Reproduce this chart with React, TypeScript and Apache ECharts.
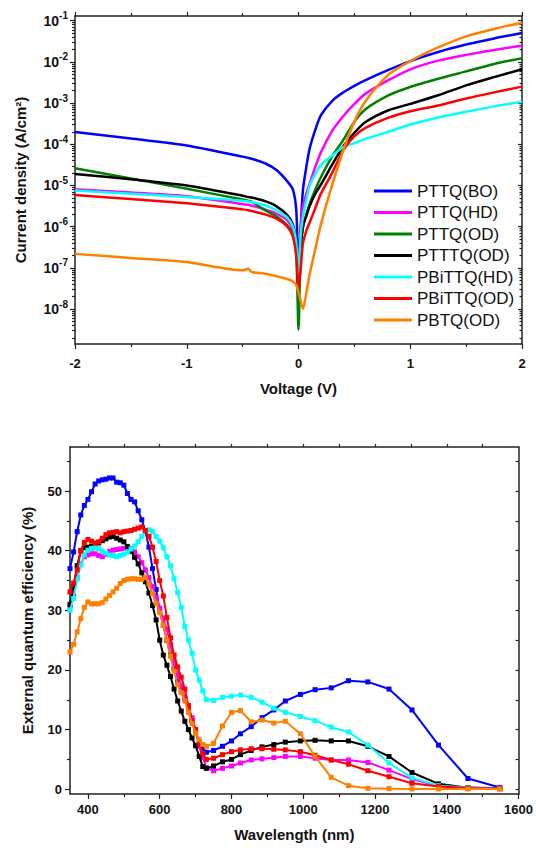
import React, { useEffect, useRef } from "react";
import * as echarts from "echarts";

// ---------- Top panel: J-V curves (values are log10 of current density, A/cm2) ----------
const voltage = [-2, -1.5, -1, -0.5, -0.45, -0.42, -0.3, -0.2, -0.1, -0.05, -0.02, 0, 0.02, 0.04, 0.07, 0.1, 0.15, 0.2, 0.3, 0.4, 0.5, 0.6, 0.8, 1.0, 1.25, 1.5, 1.75, 2.0];

const logJ_PTTQ_BO = [-3.70, -3.86, -4.03, -4.30, -4.33, -4.35, -4.46, -4.62, -4.90, -5.10, -5.6, -7.0, -6.0, -5.1, -4.55, -4.1, -3.65, -3.3, -2.95, -2.74, -2.58, -2.44, -2.2, -1.98, -1.76, -1.58, -1.43, -1.30];
const logJ_PTTQ_HD = [-5.09, -5.17, -5.26, -5.45, -5.47, -5.49, -5.58, -5.68, -5.85, -6.1, -6.6, -7.3, -6.0, -5.5, -5.2, -4.95, -4.55, -4.2, -3.68, -3.32, -3.02, -2.77, -2.45, -2.18, -1.97, -1.83, -1.71, -1.61];
const logJ_PTTQ_OD = [-4.58, -4.83, -5.08, -5.34, -5.37, -5.39, -5.6, -5.75, -5.97, -6.2, -6.7, -8.5, -6.5, -6.0, -5.7, -5.45, -5.1, -4.8, -4.3, -3.9, -3.45, -3.15, -2.82, -2.61, -2.41, -2.23, -2.05, -1.91];
const logJ_PTTTQ_OD = [-4.72, -4.85, -5.0, -5.25, -5.28, -5.29, -5.38, -5.5, -5.72, -5.95, -6.4, -7.4, -6.5, -6.0, -5.74, -5.5, -5.2, -4.98, -4.5, -4.05, -3.72, -3.46, -3.18, -3.02, -2.81, -2.57, -2.37, -2.18];
const logJ_PBiTTQ_HD = [-5.12, -5.2, -5.28, -5.37, -5.39, -5.4, -5.48, -5.6, -5.78, -6.0, -6.4, -7.2, -6.2, -5.75, -5.35, -5.0, -4.72, -4.5, -4.28, -4.07, -3.97, -3.87, -3.7, -3.52, -3.35, -3.21, -3.08, -2.97];
const logJ_PBiTTQ_OD = [-5.23, -5.33, -5.43, -5.58, -5.6, -5.62, -5.7, -5.8, -6.0, -6.25, -6.7, -7.5, -7.0, -6.4, -6.1, -5.9, -5.55, -5.2, -4.7, -4.15, -3.8, -3.6, -3.36, -3.2, -3.06, -2.89, -2.74, -2.6];
const logJ_PBTQ_OD = [-6.66, -6.76, -6.86, -7.06, -7.02, -7.10, -7.14, -7.2, -7.27, -7.33, -7.42, -7.6, -7.8, -8.0, -7.6, -7.15, -6.55, -5.95, -5.0, -4.15, -3.45, -2.95, -2.32, -1.98, -1.65, -1.38, -1.2, -1.05];

// ---------- Bottom panel: EQE spectra ----------
const wavelength = [350, 360, 370, 380, 390, 400, 410, 420, 430, 440, 450, 460, 470, 480, 490, 500, 510, 520, 530, 540, 550, 560, 570, 580, 590, 600, 610, 620, 630, 640, 650, 660, 670, 680, 690, 700, 710, 720, 730,
  750, 775, 800, 825, 855, 885, 918, 950, 992, 1033, 1078, 1126, 1180, 1239, 1303, 1377, 1459, 1548];

const eqe_PTTQ_BO = [37.0, 39.8, 43.2, 46.0, 47.6, 48.6, 49.9, 51.2, 51.7, 51.9, 52.0, 52.2, 52.2, 51.5, 51.4, 51.0, 49.6, 48.6, 48.2, 46.7, 45.2, 43.3, 40.6, 37.0, 33.5, 30.0, 27.5, 25.0, 22.5, 20.2, 18.0, 16.5, 15.2, 14.0, 11.5, 9.5, 7.8, 6.8, 6.2,
  6.5, 7.2, 8.1, 9.3, 10.5, 12.0, 13.3, 14.8, 15.9, 16.7, 17.0, 18.2, 18.0, 16.8, 13.3, 7.4, 1.8, 0.3];
const eqe_PTTQ_HD = [30.5, 32.5, 35.5, 37.8, 39.0, 39.3, 39.5, 39.5, 39.2, 39.0, 39.4, 39.9, 40.1, 40.2, 40.3, 40.4, 40.5, 40.4, 39.8, 39.0, 38.0, 36.8, 35.5, 34.0, 32.2, 30.4, 28.6, 26.8, 24.2, 21.4, 19.3, 17.3, 15.3, 13.7, 12.0, 10.0, 7.2, 5.3, 3.6,
  3.1, 3.5, 3.9, 4.4, 4.9, 5.1, 5.3, 5.5, 5.5, 5.2, 4.9, 4.9, 4.5, 3.2, 1.7, 0.55, 0.27, 0.2];
const eqe_PTTTQ_OD = [31.0, 34.0, 37.5, 40.0, 40.5, 40.6, 40.7, 41.0, 41.3, 41.7, 42.0, 42.3, 42.4, 42.1, 41.8, 41.5, 40.7, 39.9, 38.9, 37.8, 36.3, 34.8, 32.9, 30.8, 28.4, 25.0, 22.5, 20.8, 18.9, 16.8, 14.8, 13.1, 11.4, 10.0, 8.6, 7.3, 5.5, 3.8, 3.5,
  3.9, 4.6, 5.0, 5.8, 6.5, 7.1, 7.5, 7.9, 8.1, 8.2, 8.1, 8.1, 7.2, 5.5, 2.8, 0.9, 0.27, 0.1];
const eqe_PBiTTQ_HD = [30.0, 32.0, 35.3, 37.6, 39.3, 40.1, 40.4, 40.5, 40.3, 39.9, 39.6, 39.3, 39.2, 39.0, 39.2, 39.4, 39.8, 40.3, 40.8, 41.5, 42.4, 43.4, 43.5, 43.2, 42.4, 41.6, 40.5, 39.0, 37.5, 35.3, 33.0, 30.5, 27.3, 25.0, 22.8, 20.0, 18.3, 16.5, 15.0,
  14.9, 15.4, 15.6, 15.8, 15.4, 14.6, 13.6, 12.9, 12.2, 11.5, 10.4, 9.6, 7.4, 4.4, 1.9, 0.6, 0.27, 0.1];
const eqe_PBiTTQ_OD = [33.1, 34.6, 36.8, 40.0, 41.4, 41.9, 41.6, 41.3, 41.5, 42.1, 42.7, 43.0, 43.1, 43.2, 43.0, 43.2, 43.3, 43.4, 43.6, 43.8, 44.0, 43.4, 42.4, 40.6, 38.2, 35.0, 32.4, 28.8, 25.4, 22.5, 20.5, 18.8, 16.8, 14.0, 11.5, 10.0, 7.7, 6.0, 5.0,
  5.2, 5.8, 6.3, 6.6, 6.8, 6.8, 6.7, 6.6, 6.3, 5.7, 4.9, 4.2, 3.1, 2.1, 1.0, 0.45, 0.2, 0.1];
const eqe_PBTQ_OD = [23.0, 24.3, 26.4, 28.6, 30.5, 31.4, 31.1, 31.1, 31.1, 31.3, 31.9, 32.5, 33.1, 33.7, 34.5, 35.0, 35.2, 35.3, 35.3, 35.2, 35.2, 35.5, 34.4, 32.8, 31.2, 29.6, 27.5, 25.0, 22.3, 19.8, 17.6, 16.2, 14.8, 12.9, 11.0, 9.4, 8.3, 7.5, 7.2,
  7.7, 10.6, 12.9, 13.2, 11.3, 11.6, 11.1, 11.4, 9.3, 5.5, 2.0, 0.6, 0.15, 0.1, 0.05, 0.05, 0.05, 0.05];

const jvNames = ["PTTQ(BO)", "PTTQ(HD)", "PTTQ(OD)", "PTTTQ(OD)", "PBiTTQ(HD)", "PBiTTQ(OD)", "PBTQ(OD)"];
const jvColors = ["#0000FF", "#FF00FF", "#008000", "#000000", "#00FFFF", "#FF0000", "#FF8000"];
const jvData = [logJ_PTTQ_BO, logJ_PTTQ_HD, logJ_PTTQ_OD, logJ_PTTTQ_OD, logJ_PBiTTQ_HD, logJ_PBiTTQ_OD, logJ_PBTQ_OD];

const eqeNames = ["PTTQ(BO)", "PTTQ(HD)", "PTTTQ(OD)", "PBiTTQ(HD)", "PBiTTQ(OD)", "PBTQ(OD)"];
const eqeColors = ["#0000FF", "#FF00FF", "#000000", "#00FFFF", "#FF0000", "#FF8000"];
const eqeData = [eqe_PTTQ_BO, eqe_PTTQ_HD, eqe_PTTTQ_OD, eqe_PBiTTQ_HD, eqe_PBiTTQ_OD, eqe_PBTQ_OD];

// tick positions
const jMin = 1.42e-9;
const jMax = 0.13;
const decadeTicks = [1e-8, 1e-7, 1e-6, 1e-5, 1e-4, 1e-3, 1e-2, 1e-1];
const wlLabels = [400, 600, 800, 1000, 1200, 1400, 1600];
const wlMinor = [500, 700, 900, 1100, 1300, 1500];
const wlTop = [400, 500, 600, 700, 800, 900, 1000, 1100, 1200, 1300, 1400, 1500];
const eqeLabels = [0, 10, 20, 30, 40, 50];
const eqeMinor = [5, 15, 25, 35, 45, 55];
const eqeRight = [0, 5, 10, 15, 20, 25, 30, 35, 40, 45, 50, 55];

const FONT = 'Arial, "Liberation Sans", Helvetica, sans-serif';
const AX = "#222";

export default function App() {
  const ref = useRef<HTMLDivElement>(null);
  useEffect(() => {
    if (!ref.current) return;
    const chart = echarts.init(ref.current, undefined, { renderer: "svg" });

    const logMinor: number[] = [];
    for (let e = -9; e <= -1; e++) {
      for (let k = 2; k <= 9; k++) {
        const v = k * Math.pow(10, e);
        if (v > jMin && v < jMax) logMinor.push(v);
      }
    }

    const axisLine = { show: true, onZero: false, lineStyle: { color: AX, width: 1.5 } };
    const noLine = { show: false, onZero: false };
    const tickStyle = { color: AX, width: 1.2 };
    const boldLabel = { fontFamily: FONT, fontWeight: "bold" as const, fontSize: 13, color: "#111" };
    const nameStyle = { fontFamily: FONT, fontWeight: "bold" as const, fontSize: 15, color: "#111" };
    const off = { show: false };

    const series: any[] = [];
    jvNames.forEach((n, i) => {
      series.push({
        name: n,
        type: "line",
        xAxisIndex: 0,
        yAxisIndex: 0,
        symbol: "none",
        smooth: 0.25,
        lineStyle: { color: jvColors[i], width: 2.5 },
        itemStyle: { color: jvColors[i] },
        data: voltage.map((v, k) => [v, Math.pow(10, jvData[i][k])]),
        z: 2 + i,
      });
    });
    eqeNames.forEach((n, i) => {
      series.push({
        name: n + " EQE",
        type: "line",
        xAxisIndex: 2,
        yAxisIndex: 4,
        symbol: "rect",
        symbolSize: 5,
        lineStyle: { color: eqeColors[i], width: 2 },
        itemStyle: { color: eqeColors[i] },
        data: wavelength.map((w, k) => [w, eqeData[i][k]]),
        z: 2 + i,
      });
    });

    chart.setOption({
      animation: false,
      backgroundColor: "#fff",
      grid: [
        { left: 75, top: 16, width: 447, height: 328 },
        { left: 70, top: 447, width: 451, height: 347 },
      ],
      legend: {
        data: jvNames,
        orient: "vertical",
        left: 369,
        top: 176,
        icon: "rect",
        itemWidth: 38,
        itemHeight: 3,
        itemGap: 1.5,
        selectedMode: false,
        textStyle: { fontFamily: FONT, fontSize: 17, lineHeight: 20, color: "#111" },
      },
      xAxis: [
        {
          gridIndex: 0, type: "value", position: "bottom", min: -2, max: 2, interval: 1,
          axisLine, axisTick: { length: 5, lineStyle: tickStyle },
          minorTick: { show: true, splitNumber: 2, length: 3, lineStyle: tickStyle },
          splitLine: off,
          axisLabel: { ...boldLabel, margin: 13, formatter: (v: number) => String(Math.round(v)) },
          name: "Voltage (V)", nameLocation: "middle", nameGap: 37, nameTextStyle: nameStyle,
        },
        {
          gridIndex: 0, type: "value", position: "top", min: -2, max: 2, interval: 1,
          axisLine, axisTick: { length: 4, lineStyle: tickStyle },
          minorTick: { show: true, splitNumber: 2, length: 3, lineStyle: tickStyle },
          axisLabel: off, splitLine: off,
        },
        {
          gridIndex: 1, type: "value", position: "bottom", min: 350, max: 1600,
          axisLine, splitLine: off,
          axisTick: { length: 5, customValues: wlLabels, lineStyle: tickStyle },
          axisLabel: { ...boldLabel, margin: 9, customValues: wlLabels, formatter: (v: number) => String(Math.round(v)) },
          name: "Wavelength (nm)", nameLocation: "middle", nameGap: 33, nameTextStyle: nameStyle,
        },
        {
          gridIndex: 1, type: "value", position: "bottom", min: 350, max: 1600,
          axisLine: noLine, splitLine: off, axisLabel: off,
          axisTick: { length: 3, customValues: wlMinor, lineStyle: tickStyle },
        },
        {
          gridIndex: 1, type: "value", position: "top", min: 350, max: 1600,
          axisLine, splitLine: off, axisLabel: off,
          axisTick: { length: 3, customValues: wlTop, lineStyle: tickStyle },
        },
      ],
      yAxis: [
        {
          gridIndex: 0, type: "log", logBase: 10, position: "left", min: jMin, max: jMax,
          axisLine, splitLine: off,
          axisTick: { length: 5, customValues: decadeTicks, lineStyle: tickStyle },
          axisLabel: {
            margin: 7,
            customValues: decadeTicks,
            formatter: (v: number) => `{b|10}{s|${Math.round(Math.log10(v))}}`,
            rich: {
              b: { fontFamily: FONT, fontWeight: "bold", fontSize: 14, color: "#111", lineHeight: 20 },
              s: { fontFamily: FONT, fontWeight: "bold", fontSize: 10, color: "#111", lineHeight: 13, verticalAlign: "top" },
            },
          },
          name: "Current density (A/cm²)", nameLocation: "middle", nameGap: 47, nameTextStyle: nameStyle,
        },
        {
          gridIndex: 0, type: "log", logBase: 10, position: "left", min: jMin, max: jMax,
          axisLine: noLine, splitLine: off, axisLabel: off,
          axisTick: { length: 3, customValues: logMinor, lineStyle: tickStyle },
        },
        {
          gridIndex: 0, type: "log", logBase: 10, position: "right", min: jMin, max: jMax,
          axisLine, splitLine: off, axisLabel: off,
          axisTick: { length: 4, inside: true, customValues: decadeTicks, lineStyle: tickStyle },
        },
        {
          gridIndex: 0, type: "log", logBase: 10, position: "right", min: jMin, max: jMax,
          axisLine: noLine, splitLine: off, axisLabel: off,
          axisTick: { length: 2.5, inside: true, customValues: logMinor, lineStyle: tickStyle },
        },
        {
          gridIndex: 1, type: "value", position: "left", min: -0.8, max: 57.4,
          axisLine, splitLine: off,
          axisTick: { length: 5, customValues: eqeLabels, lineStyle: tickStyle },
          axisLabel: { ...boldLabel, margin: 8, customValues: eqeLabels, formatter: (v: number) => String(Math.round(v)) },
          name: "External quantum efficiency (%)", nameLocation: "middle", nameGap: 35, nameTextStyle: nameStyle,
        },
        {
          gridIndex: 1, type: "value", position: "left", min: -0.8, max: 57.4,
          axisLine: noLine, splitLine: off, axisLabel: off,
          axisTick: { length: 3, customValues: eqeMinor, lineStyle: tickStyle },
        },
        {
          gridIndex: 1, type: "value", position: "right", min: -0.8, max: 57.4,
          axisLine, splitLine: off, axisLabel: off,
          axisTick: { length: 3, inside: true, customValues: eqeRight, lineStyle: tickStyle },
        },
      ],
      series,
    });
    return () => chart.dispose();
  }, []);
  return <div ref={ref} style={{ position: "absolute", left: 0, top: 0, width: 536, height: 850, background: "#fff" }} />;
}
